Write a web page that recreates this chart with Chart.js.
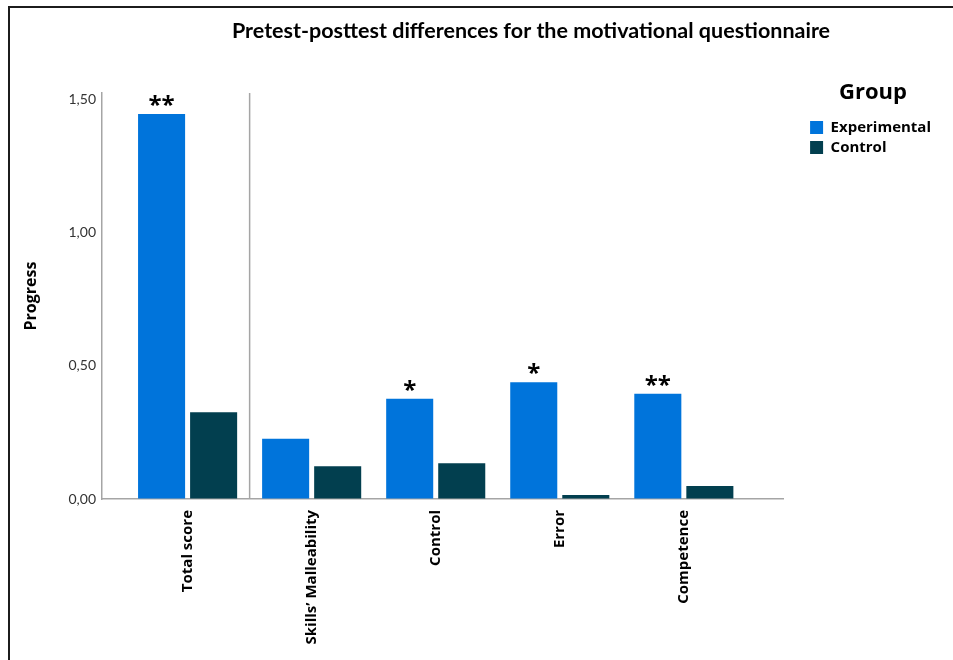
<!DOCTYPE html>
<html>
<head>
<meta charset="utf-8">
<script src="https://cdn.jsdelivr.net/npm/chart.js@4.4.1/dist/chart.umd.min.js"></script>
<style>
  html, body { margin: 0; padding: 0; background: #fff; }
  #frame { position: absolute; left: 8px; top: 6px; width: 1000px; height: 700px;
           border-top: 2px solid #1c1c1c; border-left: 2px solid #1c1c1c; }
  #chart { position: absolute; left: 0; top: 0; }
</style>
</head>
<body>
<div id="frame"></div>
<canvas id="chart" width="953" height="660"></canvas>
<script>
// data
var categories   = ['Total score', 'Skills\u2019 Malleability', 'Control', 'Error', 'Competence'];
var experimental = [1.447, 0.226, 0.377, 0.439, 0.396];
var control      = [0.326, 0.123, 0.134, 0.015, 0.049];
var significance = ['**', '', '*', '*', '**'];
var yTicks       = [0, 0.5, 1, 1.5];

var seriesNames  = ['Experimental', 'Control'];
var titleText    = 'Pretest-posttest differences for the motivational questionnaire';
var yTitle       = 'Progress';
var legendTitle  = 'Group';

var expColor  = '#0074db';
var ctrlColor = '#023f4f';
var axisColor = '#a5a5a5';

function points(values) {
    return values.map(function (v, i) { return { x: i, y: v }; });
}

// separator line after "Total score" and the significance stars
var overlay = {
    id: 'overlay',
    afterLayout: function (chart) {
        var t = chart.titleBlock;
        if (t) { t.left = 109; t.right = 953; }
    },
    afterDatasetsDraw: function (chart) {
        var ctx = chart.ctx, area = chart.chartArea;
        var sx = chart.scales.x.getPixelForValue(0.5);
        ctx.save();
        ctx.strokeStyle = axisColor;
        ctx.lineWidth = 1.5;
        ctx.beginPath();
        ctx.moveTo(sx, area.top);
        ctx.lineTo(sx, area.bottom);
        ctx.stroke();
        ctx.fillStyle = '#000';
        ctx.font = 'bold 24px "Open Sans"';
        ctx.textAlign = 'center';
        ctx.textBaseline = 'alphabetic';
        chart.getDatasetMeta(0).data.forEach(function (bar, i) {
            if (significance[i]) ctx.fillText(significance[i], bar.x, bar.y - 1);
        });
        ctx.restore();
    }
};

new Chart(document.getElementById('chart'), {
    type: 'bar',
    data: {
        datasets: [
            { label: seriesNames[0], data: points(experimental), backgroundColor: expColor, borderWidth: 0 },
            { label: seriesNames[1], data: points(control), backgroundColor: ctrlColor, borderWidth: 0 }
        ]
    },
    options: {
        responsive: false,
        animation: false,
        categoryPercentage: 0.839,
        barPercentage: 0.904,
        layout: { padding: { left: 0, right: 12, top: 0, bottom: 0 } },
        plugins: {
            title: {
                display: true, text: titleText, color: '#000',
                font: { family: 'Lato', size: 21.5, weight: 'bold' },
                padding: { top: 18, bottom: 49.2 }
            },
            legend: {
                position: 'right', align: 'start',
                title: {
                    display: true, text: legendTitle, color: '#000',
                    font: { family: 'Open Sans', size: 22, weight: 'bold' },
                    padding: { top: 82, bottom: 6.6 }
                },
                labels: {
                    boxWidth: 13, boxHeight: 13, padding: 5, color: '#000',
                    font: { family: 'Open Sans', size: 15, weight: 'bold' }
                }
            },
            tooltip: { enabled: false }
        },
        scales: {
            x: {
                type: 'linear', min: -0.69, max: 4.80, offset: false,
                afterBuildTicks: function (s) { s.ticks = categories.map(function (c, i) { return { value: i }; }); },
                afterFit: function (s) { s.height = 161; },
                ticks: {
                    autoSkip: false, minRotation: 90, maxRotation: 90, padding: 11, color: '#000',
                    font: { family: 'Open Sans', size: 15, weight: 'bold' },
                    callback: function (v) { return categories[v]; }
                },
                grid: { color: 'rgba(0,0,0,0)', drawTicks: false, offset: false },
                border: { color: axisColor, width: 1.5 }
            },
            y: {
                min: 0, max: 1.526,
                afterBuildTicks: function (s) { s.ticks = yTicks.map(function (v) { return { value: v }; }); },
                afterFit: function (s) { s.width = 102; },
                ticks: {
                    padding: 6, color: '#333',
                    font: { family: 'Lato', size: 14 },
                    callback: function (v) { return v.toFixed(2).replace('.', ','); }
                },
                grid: { color: 'rgba(0,0,0,0)', drawTicks: false },
                border: { color: axisColor, width: 1.5 },
                title: {
                    display: true, text: yTitle, color: '#000',
                    font: { family: 'Open Sans', size: 16, weight: 'bold' },
                    padding: { top: 22, bottom: 0 }
                }
            },
            pad: {
                type: 'linear', position: 'right', display: true,
                ticks: { display: false }, grid: { display: false }, border: { display: false },
                afterFit: function (s) { s.width = 22; }
            }
        }
    },
    plugins: [overlay]
});
</script>
</body>
</html>
